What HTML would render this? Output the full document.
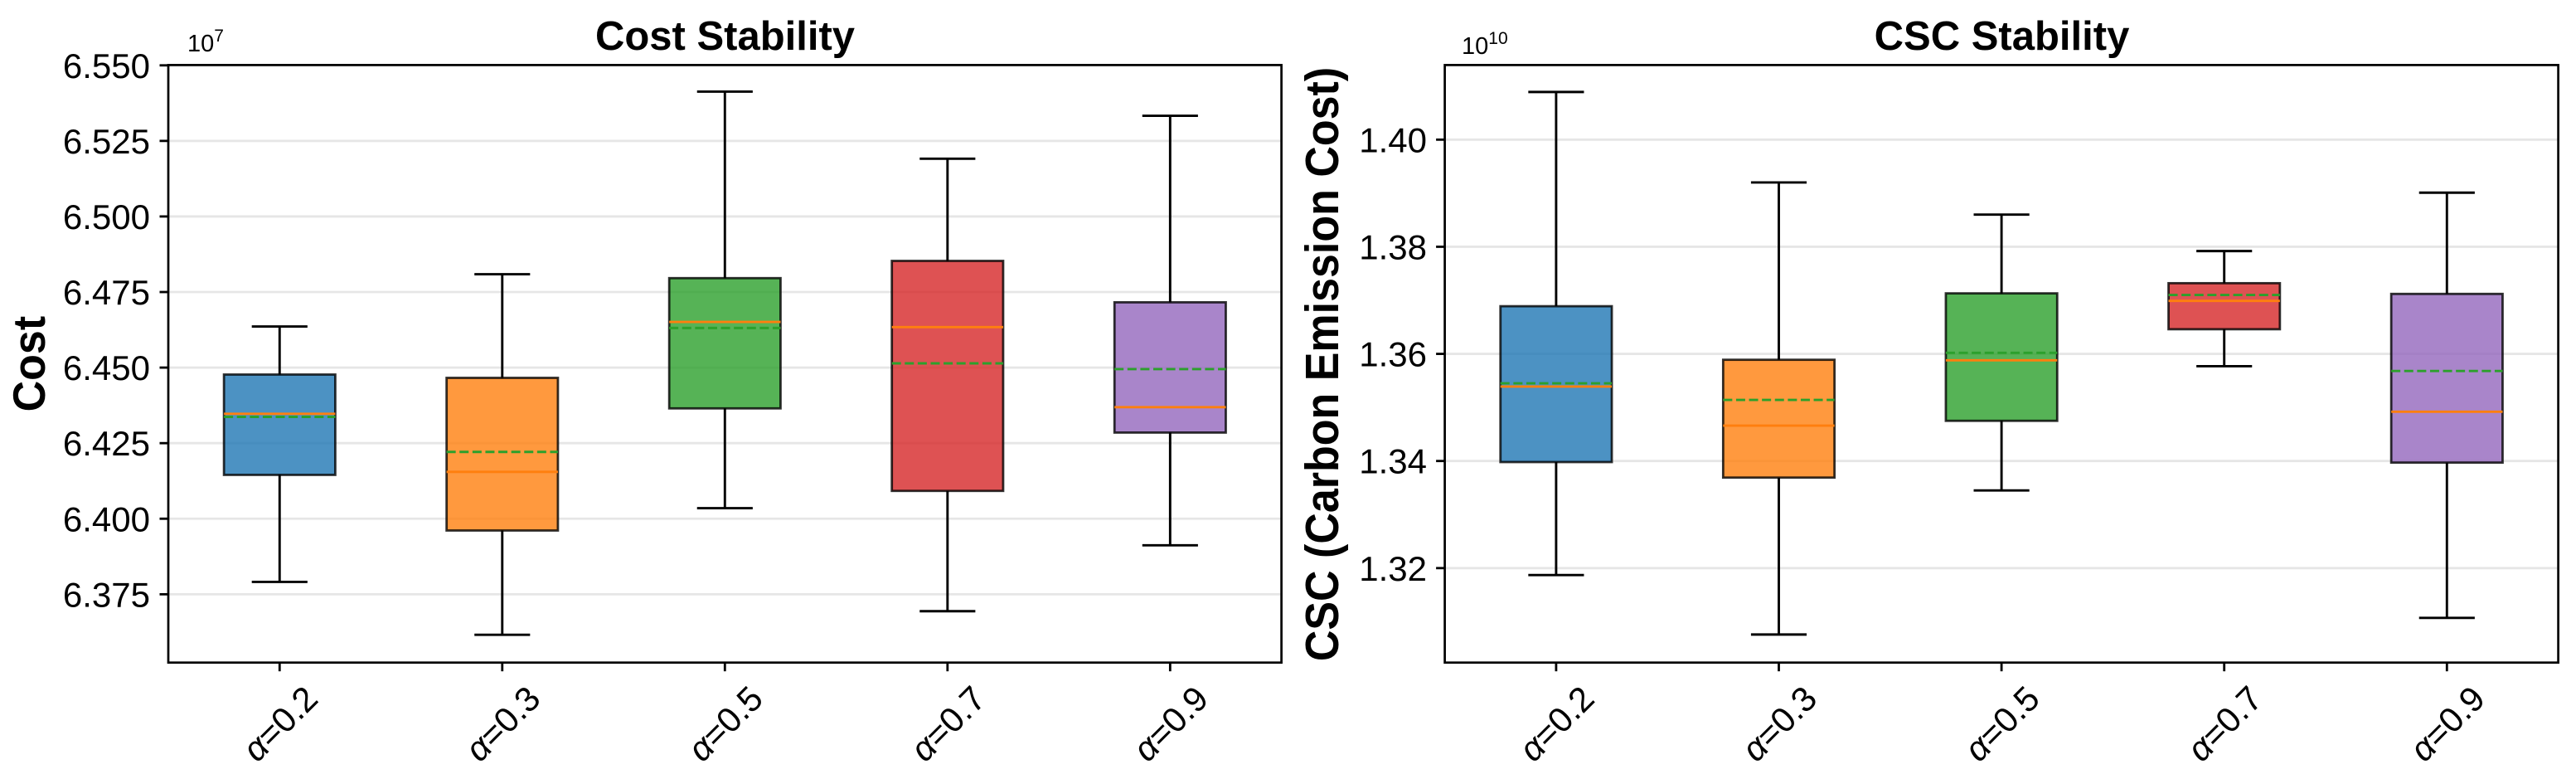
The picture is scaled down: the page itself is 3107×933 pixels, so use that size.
<!DOCTYPE html>
<html lang="en">
<head>
<meta charset="utf-8">
<title>Cost and CSC Stability</title>
<style>
html,body{margin:0;padding:0;background:#fff;width:3107px;height:933px;overflow:hidden}
svg{display:block;font-family:"Liberation Sans","DejaVu Sans",sans-serif}
</style>
</head>
<body>
<svg id="figure" xmlns="http://www.w3.org/2000/svg" width="3107" height="933" viewBox="0 0 3107 933">
  <rect x="0" y="0" width="3107" height="933" fill="#ffffff"/>
  <text x="874.5" y="60" font-size="49" font-weight="700" text-anchor="middle">Cost Stability</text>
  <text x="2414.5" y="60" font-size="49" font-weight="700" text-anchor="middle">CSC Stability</text>
  <text transform="translate(54,438.6) rotate(-90) scale(1,1.05)" font-size="52" font-weight="700" text-anchor="middle">Cost</text>
  <text transform="translate(1614,439) rotate(-90) scale(1,1.08)" font-size="52" font-weight="700" text-anchor="middle">CSC (Carbon Emission Cost)</text>
  <text x="226" y="62" font-size="29">10<tspan font-size="21" dy="-12">7</tspan></text>
  <text x="1763" y="65" font-size="29">10<tspan font-size="21" dy="-12">10</tspan></text>
  <g id="cost-chart"></g>
  <g id="csc-chart"></g>
</svg>
<script>
const categories = ['0.2', '0.3', '0.5', '0.7', '0.9'];
const boxColors = ['#1f77b4', '#ff7f0e', '#2ca02c', '#d62728', '#9467bd'];

const costTicks = ['6.375', '6.400', '6.425', '6.450', '6.475', '6.500', '6.525', '6.550'];
const costMax = [6.4636, 6.4809, 6.5413, 6.5191, 6.5333];
const costQ3 = [6.4477, 6.4466, 6.4796, 6.4853, 6.4716];
const costMedian = [6.4347, 6.4155, 6.4651, 6.4634, 6.4369];
const costMean = [6.4337, 6.4221, 6.4631, 6.4514, 6.4495];
const costQ1 = [6.4145, 6.3961, 6.4365, 6.4092, 6.4285];
const costMin = [6.3791, 6.3616, 6.4035, 6.3694, 6.3912];

const cscTicks = ['1.32', '1.34', '1.36', '1.38', '1.40'];
const cscMax = [1.4089, 1.3920, 1.3860, 1.3792, 1.3901];
const cscQ3 = [1.3689, 1.3589, 1.3713, 1.3732, 1.3712];
const cscMedian = [1.3539, 1.3466, 1.3588, 1.3699, 1.3492];
const cscMean = [1.3545, 1.3514, 1.3602, 1.3710, 1.3568];
const cscQ1 = [1.3398, 1.3369, 1.3475, 1.3646, 1.3397];
const cscMin = [1.3187, 1.3076, 1.3345, 1.3577, 1.3107];

const costDomain = [6.3524, 6.5501];
const cscDomain = [1.30236, 1.41393];

const NS = 'http://www.w3.org/2000/svg';
const PLOT_TOP = 78.4;
const PLOT_BOTTOM = 798.7;

function scaleY(domain) {
  return function (v) {
    return PLOT_BOTTOM - (v - domain[0]) / (domain[1] - domain[0]) * (PLOT_BOTTOM - PLOT_TOP);
  };
}
function scaleX(left, right, count) {
  return function (i) {
    return left + (i + 0.5) * (right - left) / count;
  };
}
function make(parent, tag, attrs) {
  const el = document.createElementNS(NS, tag);
  for (const k in attrs) el.setAttribute(k, attrs[k]);
  parent.appendChild(el);
  return el;
}

function drawChart(root, prefix, left, right, domain, ticks, labelX, s) {
  const y = scaleY(domain);
  const x = scaleX(left, right, categories.length);
  const step = (right - left) / categories.length;
  const boxW = step * 0.5;
  const capW = step * 0.25;

  ticks.forEach(function (t) {
    const py = y(parseFloat(t));
    const grid = make(root, 'line', {x1: left, x2: right, y1: py, y2: py, stroke: '#e6e6e6', 'stroke-width': 2.8});
    
    
    const tick = make(root, 'line', {x1: left - 10.5, x2: left, y1: py, y2: py, stroke: '#000', 'stroke-width': 2.8});
    
    
    const label = make(root, 'text', {x: labelX, y: py + 15, 'font-size': 42, 'text-anchor': 'end', fill: '#000'});
    label.textContent = t;
    
    
  });

  categories.forEach(function (c, i) {
    const cx = x(i);
    const g = make(root, 'g', {});
    
    

    const whiskerUp = make(g, 'line', {x1: cx, x2: cx, y1: y(s.max[i]), y2: y(s.q3[i]), stroke: '#000', 'stroke-width': 2.9});
    
    
    const whiskerDown = make(g, 'line', {x1: cx, x2: cx, y1: y(s.q1[i]), y2: y(s.min[i]), stroke: '#000', 'stroke-width': 2.9});
    
    
    const capUp = make(g, 'line', {x1: cx - capW / 2, x2: cx + capW / 2, y1: y(s.max[i]), y2: y(s.max[i]), stroke: '#000', 'stroke-width': 2.9});
    
    
    const capDown = make(g, 'line', {x1: cx - capW / 2, x2: cx + capW / 2, y1: y(s.min[i]), y2: y(s.min[i]), stroke: '#000', 'stroke-width': 2.9});
    
    

    const box = make(g, 'rect', {
      x: cx - boxW / 2, y: y(s.q3[i]), width: boxW, height: y(s.q1[i]) - y(s.q3[i]),
      fill: boxColors[i], 'fill-opacity': 0.8, stroke: '#000', 'stroke-opacity': 0.8, 'stroke-width': 2.8
    });
    
    

    const median = make(g, 'line', {x1: cx - boxW / 2, x2: cx + boxW / 2, y1: y(s.median[i]), y2: y(s.median[i]), stroke: '#ff7f0e', 'stroke-width': 2.9});
    
    
    const mean = make(g, 'line', {x1: cx - boxW / 2, x2: cx + boxW / 2, y1: y(s.mean[i]), y2: y(s.mean[i]), stroke: '#2ca02c', 'stroke-width': 2.9, 'stroke-dasharray': '11 4.6'});
    
    

    const tick = make(root, 'line', {x1: cx, x2: cx, y1: PLOT_BOTTOM, y2: PLOT_BOTTOM + 10.5, stroke: '#000', 'stroke-width': 2.8});
    
    

    const label = make(root, 'text', {'font-size': 42, 'text-anchor': 'middle', fill: '#000', transform: 'translate(' + cx + ',872) rotate(-45)', y: 15});
    
    
    const sym = make(label, 'tspan', {'font-style': 'italic'});
    sym.textContent = 'α';
    const val = make(label, 'tspan', {});
    val.textContent = '=' + c;
  });

  const frame = make(root, 'rect', {x: left, y: PLOT_TOP, width: right - left, height: PLOT_BOTTOM - PLOT_TOP, fill: 'none', stroke: '#000', 'stroke-width': 2.7});
  
  
}

drawChart(document.getElementById('cost-chart'), 'cost', 203, 1545.6, costDomain, costTicks, 181,
  {max: costMax, q3: costQ3, median: costMedian, mean: costMean, q1: costQ1, min: costMin});
drawChart(document.getElementById('csc-chart'), 'csc', 1742.6, 3085.6, cscDomain, cscTicks, 1721,
  {max: cscMax, q3: cscQ3, median: cscMedian, mean: cscMean, q1: cscQ1, min: cscMin});
</script>
</body>
</html>
